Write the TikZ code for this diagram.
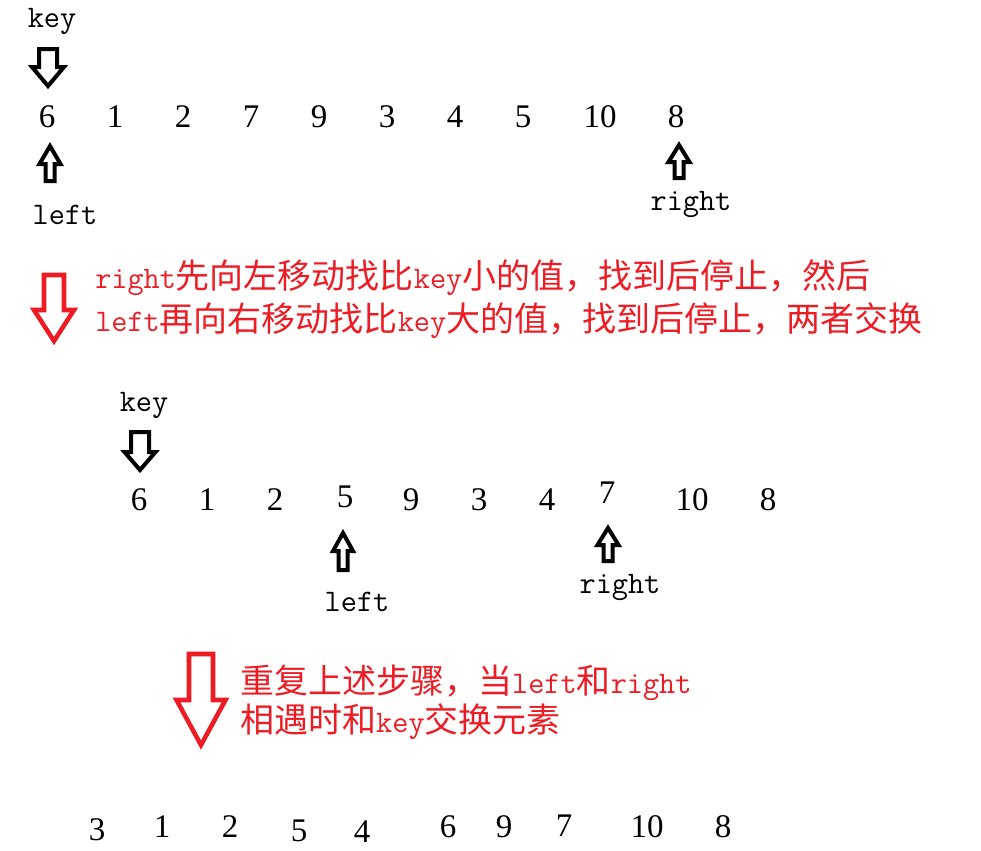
\documentclass[tikz,border=0pt]{standalone}
\usepackage{fontspec}
\setmainfont{Liberation Serif}
\newfontfamily\lat[Scale=0.95]{Latin Modern Mono}
\newfontfamily\cjk[Scale=1.03]{Noto Sans CJK SC}
\definecolor{pred}{HTML}{ED1C24}
% style, cx, y-start (shaft end), y-head, shaft half width, head half width, y-tip
\newcommand{\fatarrow}[7]{\draw[#1] (#2-#5,#3) -- (#2+#5,#3) -- (#2+#5,#4) -- (#2+#6,#4) -- (#2,#7) -- (#2-#6,#4) -- (#2-#5,#4) -- cycle;}
\tikzset{
  num/.style={inner sep=0pt, font=\fontsize{24.75}{30}\selectfont},
  word/.style={inner sep=0pt, font=\fontsize{24.75}{30}\selectfont\lat},
  redtxt/.style={inner sep=0pt, anchor=west, text=pred, font=\fontsize{24.75}{30}\selectfont\cjk},
  blkarrow/.style={draw=black, fill=white, line width=3pt, line join=miter},
  redarrow/.style={draw=pred, fill=white, line width=3.4pt, line join=miter}
}
\begin{document}
\begin{tikzpicture}[x=0.75pt,y=-0.75pt]
\useasboundingbox (0,0) rectangle (981,850);
% row 1
\node[word] (key1) at (52,21) {key};
\foreach \v/\x [count=\i] in {6/47,1/115,2/183,7/251,9/319,3/387,4/455,5/523,10/600,8/676}
  \node[num] (a\i) at (\x,117) {\v};
\fatarrow{blkarrow}{48}{49}{67}{9}{16}{86}
\fatarrow{blkarrow}{50}{181}{164}{4.5}{10.5}{146}
\fatarrow{blkarrow}{679}{178}{162}{4.5}{10.5}{145}
\node[word] (left1) at (65,215) {left};
\node[word] (right1) at (691,205) {right};
% red arrow 1 and text
\fatarrow{redarrow}{54}{275}{310}{10}{20}{341}
\node[redtxt] (t1) at (95,278) {{\lat right}先向左移动找比{\lat key}小的值，找到后停止，然后};
\node[redtxt] (t2) at (95,321) {{\lat left}再向右移动找比{\lat key}大的值，找到后停止，两者交换};
% row 2
\node[word] (key2) at (144,405) {key};
\fatarrow{blkarrow}{140}{432}{452}{9}{15.5}{470}
\node[num] (b1) at (139,500) {6};
\node[num] (b2) at (207,500) {1};
\node[num] (b3) at (275,500) {2};
\node[num] (b4) at (345,497) {5};
\node[num] (b5) at (411,500) {9};
\node[num] (b6) at (479,500) {3};
\node[num] (b7) at (547,500) {4};
\node[num] (b8) at (607,493) {7};
\node[num] (b9) at (692,500) {10};
\node[num] (b10) at (768,500) {8};
\fatarrow{blkarrow}{343}{570}{551}{4.5}{10}{533}
\fatarrow{blkarrow}{608}{561}{545}{4.5}{10.5}{528}
\node[word] (left2) at (357,602) {left};
\node[word] (right2) at (620,588) {right};
% red arrow 2 and text
\fatarrow{redarrow}{201}{654}{700}{12}{24.5}{745}
\node[redtxt] (t3) at (240,683) {重复上述步骤，当{\lat left}和{\lat right}};
\node[redtxt] (t4) at (240,722) {相遇时和{\lat key}交换元素};
% row 3
\node[num] (c1) at (97,830) {3};
\node[num] (c2) at (162,827) {1};
\node[num] (c3) at (230,827) {2};
\node[num] (c4) at (299,831) {5};
\node[num] (c5) at (362,832) {4};
\node[num] (c6) at (448,827) {6};
\node[num] (c7) at (504,827) {9};
\node[num] (c8) at (564,826) {7};
\node[num] (c9) at (647,827) {10};
\node[num] (c10) at (723,827) {8};
\end{tikzpicture}
\end{document}
